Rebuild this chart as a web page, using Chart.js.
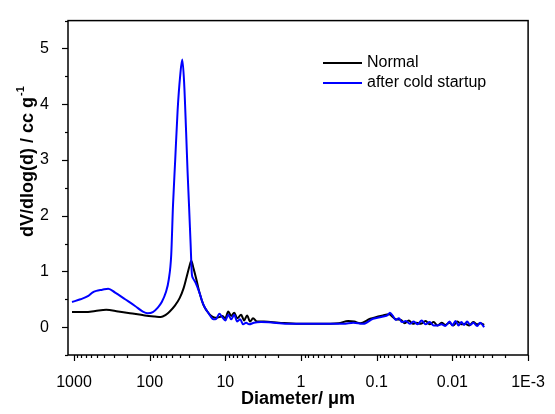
<!DOCTYPE html>
<html>
<head>
<meta charset="utf-8">
<script src="https://cdn.jsdelivr.net/npm/chart.js@4.4.1/dist/chart.umd.min.js"></script>
<style>
  html, body { margin: 0; padding: 0; background: #fff; }
  #wrap { width: 555px; height: 414px; }
</style>
</head>
<body>
<div id="wrap"><canvas id="poreChart" width="555" height="414"></canvas></div>
<script>
// Pore size distribution
const normalDiameters = [1062, 707, 523, 375, 261, 182, 116, 85.5, 71.3, 61.3, 54.3, 46.7, 40.2, 35.6, 32.5, 29.7, 28.2, 26.3, 24.1, 22.0,
  19.5, 17.3, 15.3, 13.6, 12.0, 11.0, 10.0, 9.16, 8.37, 7.64, 6.98, 6.19, 5.65, 5.16, 4.72, 4.31, 3.82, 3.09, 1.97, 1.07,
  0.588, 0.321, 0.238, 0.198, 0.166, 0.122, 0.0827, 0.069, 0.0611, 0.0559, 0.048, 0.0426, 0.0377, 0.0334, 0.0296, 0.0263,
  0.0226, 0.02, 0.0177, 0.0157, 0.0139, 0.0124, 0.0109, 0.0097, 0.0086, 0.0076, 0.0068, 0.006, 0.0053, 0.0047, 0.0043, 0.0038];
const normalValues = [0.27, 0.27, 0.29, 0.31, 0.28, 0.25, 0.21, 0.19, 0.18, 0.22, 0.28, 0.38, 0.52, 0.70, 0.90, 1.10, 1.19, 1.05, 0.85, 0.62,
  0.40, 0.28, 0.20, 0.17, 0.18, 0.20, 0.16, 0.28, 0.20, 0.26, 0.16, 0.22, 0.12, 0.21, 0.10, 0.16, 0.10, 0.10, 0.08, 0.06,
  0.06, 0.07, 0.11, 0.10, 0.07, 0.15, 0.21, 0.23, 0.18, 0.14, 0.13, 0.07, 0.12, 0.06, 0.08, 0.06,
  0.11, 0.05, 0.09, 0.03, 0.08, 0.04, 0.08, 0.03, 0.10, 0.05, 0.06, 0.03, 0.09, 0.05, 0.07, 0.04];

const coldDiameters = [1062, 822, 646, 572, 507, 423, 353, 286, 211, 156, 123, 106, 90.8, 78.1, 69.2, 61.3, 56.0, 51.9, 49.2, 46.0,
  42.7, 39.6, 37.1, 35.1, 33.0, 31.6, 30.2, 28.8, 27.7, 26.8, 24.8, 22.0, 20.1, 18.3, 17.3, 15.8, 14.4, 13.2, 12.0, 11.0,
  10.0, 9.16, 8.37, 7.64, 6.98, 6.38, 5.83, 5.32, 4.86, 4.18, 3.38, 2.29, 1.45, 0.795, 0.435, 0.276, 0.204, 0.151, 0.112,
  0.0827, 0.0711, 0.0669, 0.0611, 0.0559, 0.051, 0.0466, 0.0413, 0.0366, 0.0324, 0.0288, 0.0255, 0.0226, 0.02, 0.0177,
  0.0157, 0.0139, 0.0124, 0.0109, 0.01, 0.0091, 0.0083, 0.0076, 0.007, 0.0064, 0.0058, 0.0053, 0.0047, 0.0043, 0.0038];
const coldValues = [0.45, 0.50, 0.56, 0.62, 0.65, 0.67, 0.69, 0.62, 0.50, 0.38, 0.28, 0.25, 0.27, 0.35, 0.45, 0.62, 0.85, 1.3, 2.18, 3.0,
  3.9, 4.5, 4.80, 4.4, 3.5, 2.8, 2.18, 1.5, 0.95, 0.88, 0.80, 0.62, 0.45, 0.33, 0.28, 0.20, 0.14, 0.15, 0.24, 0.18,
  0.12, 0.22, 0.14, 0.22, 0.10, 0.14, 0.05, 0.08, 0.05, 0.08, 0.09, 0.08, 0.06, 0.06, 0.06, 0.06, 0.08, 0.06, 0.15,
  0.19, 0.22, 0.26, 0.20, 0.13, 0.16, 0.09, 0.11, 0.06, 0.10, 0.05, 0.12, 0.05, 0.09, 0.03,
  0.03, 0.05, 0.02, 0.10, 0.03, 0.11, 0.03, 0.09, 0.04, 0.10, 0.04, 0.08, 0.02, 0.08, 0.00];

const xMajorTicks = [1000, 100, 10, 1, 0.1, 0.01, 0.001];
const xTickLabels = ['1000', '100', '10', '1', '0.1', '0.01', '1E-3'];
const yTickLabels = ['0', '1', '2', '3', '4', '5'];

const seriesNames = ['Normal', 'after cold startup'];
const seriesColors = ['#000000', '#0000ff'];

const FONT = '"Liberation Sans", Arial, sans-serif';

function toPoints(xs, ys) {
  return xs.map(function (x, i) { return { x: x, y: ys[i] }; });
}

// minor ticks: 2..9 within every decade
const xAllTicks = [];
xMajorTicks.forEach(function (m, i) {
  xAllTicks.push(m);
  if (i < xMajorTicks.length - 1) {
    for (let k = 9; k >= 2; k--) xAllTicks.push(m / 10 * k);
  }
});
// one more minor tick above 1000 isn't shown in the reference

// Draw tick marks, frame, axis titles and legend
const framePlugin = {
  id: 'framePlugin',
  afterDraw(chart) {
    const ctx = chart.ctx;
    const area = chart.chartArea;
    const xs = chart.scales.x;
    const ys = chart.scales.y;
    ctx.save();
    ctx.strokeStyle = '#000';
    ctx.lineWidth = 1.5;
    ctx.strokeRect(area.left, area.top, area.right - area.left, area.bottom - area.top);

    ctx.lineWidth = 1.2;
    xs.ticks.forEach(function (t) {
      const lg = Math.log10(t.value);
      const major = Math.abs(lg - Math.round(lg)) < 1e-6;
      const px = Math.round(xs.getPixelForValue(t.value)) + 0.5;
      ctx.beginPath();
      ctx.moveTo(px, area.bottom);
      ctx.lineTo(px, area.bottom + (major ? 6 : 3));
      ctx.stroke();
    });
    ys.ticks.forEach(function (t) {
      const major = Math.abs(t.value - Math.round(t.value)) < 1e-6;
      const py = Math.round(ys.getPixelForValue(t.value)) + 0.5;
      ctx.beginPath();
      ctx.moveTo(area.left, py);
      ctx.lineTo(area.left - (major ? 6 : 3), py);
      ctx.stroke();
    });

    // x title
    ctx.fillStyle = '#000';
    ctx.font = 'bold 18px ' + FONT;
    ctx.textAlign = 'center';
    ctx.textBaseline = 'middle';
    ctx.fillText('Diameter/ \u03bcm', (area.left + area.right) / 2, 399);

    // y title with superscript
    const main = 'dV/dlog(d) / cc g';
    const sup = '-1';
    ctx.save();
    ctx.translate(27, 162);
    ctx.rotate(-Math.PI / 2);
    ctx.font = 'bold 18px ' + FONT;
    const wMain = ctx.measureText(main).width;
    ctx.font = 'bold 11px ' + FONT;
    const wSup = ctx.measureText(sup).width;
    const start = -(wMain + wSup) / 2;
    ctx.textAlign = 'left';
    ctx.textBaseline = 'alphabetic';
    ctx.font = 'bold 18px ' + FONT;
    ctx.fillText(main, start, 6);
    ctx.font = 'bold 11px ' + FONT;
    ctx.fillText(sup, start + wMain + 1, -3);
    ctx.restore();

    // legend
    ctx.font = '16px ' + FONT;
    ctx.textAlign = 'left';
    ctx.textBaseline = 'middle';
    ctx.lineWidth = 2;
    seriesNames.forEach(function (name, i) {
      const y = 63 + i * 20;
      ctx.strokeStyle = seriesColors[i];
      ctx.beginPath();
      ctx.moveTo(323, y);
      ctx.lineTo(362, y);
      ctx.stroke();
      ctx.fillText(name, 367, y);
    });
    ctx.restore();
  }
};

const ctx = document.getElementById('poreChart').getContext('2d');
const chart = new Chart(ctx, {
  type: 'line',
  data: {
    datasets: [{
      label: seriesNames[0],
      data: toPoints(normalDiameters, normalValues),
      borderColor: seriesColors[0],
      borderWidth: 2,
      pointRadius: 0,
      cubicInterpolationMode: 'monotone',
      fill: false,
      order: 2,
    }, {
      label: seriesNames[1],
      data: toPoints(coldDiameters, coldValues),
      borderColor: seriesColors[1],
      borderWidth: 2,
      pointRadius: 0,
      cubicInterpolationMode: 'monotone',
      fill: false,
      order: 1,
    }]
  },
  options: {
    responsive: false,
    animation: false,
    layout: { padding: { top: 8, right: 23, left: 0, bottom: 0 } },
    plugins: {
      legend: { display: false },
      tooltip: { enabled: false },
    },
    scales: {
      x: {
        type: 'logarithmic',
        reverse: true,
        min: 0.001,
        max: 1200,
        grid: { display: false },
        border: { display: false },
        afterBuildTicks: function (scale) {
          scale.ticks = xAllTicks.map(function (v) { return { value: v }; });
        },
        afterFit: function (scale) { scale.height = 59; },
        ticks: {
          autoSkip: false,
          maxRotation: 0,
          padding: 10,
          color: '#000',
          font: { family: FONT, size: 16 },
          callback: function (value) {
            const idx = xMajorTicks.findIndex(function (m) { return Math.abs(m - value) / m < 1e-6; });
            return idx >= 0 ? xTickLabels[idx] : '';
          }
        }
      },
      y: {
        min: -0.5,
        max: 5.5,
        grid: { display: false },
        border: { display: false },
        afterFit: function (scale) { scale.width = 68; },
        ticks: {
          stepSize: 0.5,
          autoSkip: false,
          padding: 11,
          color: '#000',
          font: { family: FONT, size: 16 },
          callback: function (value) {
            const r = Math.round(value);
            if (Math.abs(value - r) > 1e-6 || r < 0 || r > 5) return '';
            return yTickLabels[r];
          }
        }
      }
    }
  },
  plugins: [framePlugin]
});
</script>
</body>
</html>
